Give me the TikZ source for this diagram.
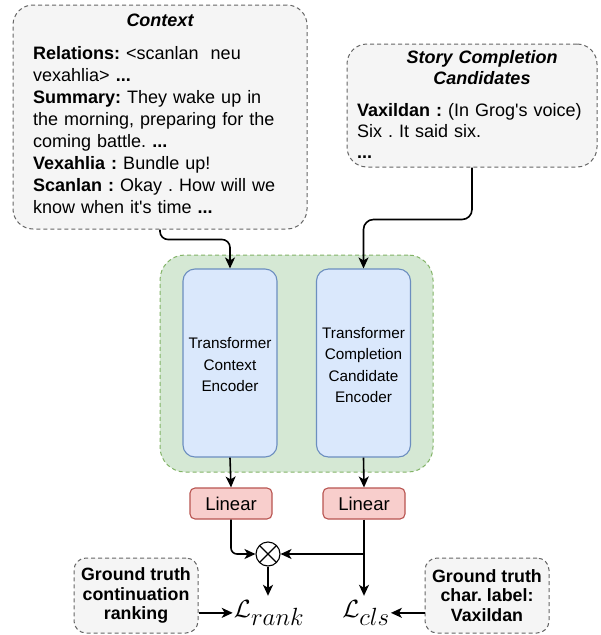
\documentclass[tikz,border=0pt]{standalone}
\usepackage{fontspec}
\newfontfamily\arial{Liberation Sans}
\usetikzlibrary{arrows.meta}
\frenchspacing
\definecolor{grayfill}{HTML}{F5F5F5}
\definecolor{grayline}{HTML}{666666}
\definecolor{greenfill}{HTML}{D5E8D4}
\definecolor{greenline}{HTML}{82B366}
\definecolor{bluefill}{HTML}{DAE8FC}
\definecolor{blueline}{HTML}{6C8EBF}
\definecolor{redfill}{HTML}{F8CECC}
\definecolor{redline}{HTML}{B85450}
\tikzset{
  graybox/.style={draw=grayline, fill=grayfill, line width=1pt, dash pattern=on 4pt off 3pt, rounded corners=20pt, inner sep=0pt},
  grpbox/.style={draw=greenline, fill=greenfill, line width=1pt, dash pattern=on 4pt off 3pt, rounded corners=25pt, inner sep=0pt},
  encbox/.style={draw=blueline, fill=bluefill, line width=1.1pt, rounded corners=12pt, minimum width=94pt, minimum height=188pt, inner sep=0pt},
  enctext/.style={align=center, font=\arial\fontsize{15.3}{21.5}\selectfont},
  linbox/.style={draw=redline, fill=redfill, line width=1.1pt, rounded corners=5pt, minimum width=82pt, minimum height=31pt, inner sep=0pt, font=\arial\fontsize{18.5}{22}\selectfont},
  gtbox/.style={graybox, rounded corners=12pt, minimum width=124pt, minimum height=75pt, align=center, font=\arial\bfseries\fontsize{17.8}{19.5}\selectfont},
  conn/.style={line width=1.6pt, -{Stealth[length=11pt,width=10pt,inset=3pt]}},
  plain/.style={line width=1.6pt},
  losstext/.style={inner xsep=1pt, inner ysep=4pt, font=\fontsize{36}{36}\selectfont},
}
\begin{document}
\begin{tikzpicture}[x=1pt,y=-1pt, font=\arial]
\useasboundingbox (0,0) rectangle (601,635);

% context box
\node[graybox, minimum width=294pt, minimum height=224pt] (ctx) at (160,117) {};
\node[anchor=base, inner sep=0pt, font=\arial\bfseries\itshape\fontsize{18}{22}\selectfont] (ctxtitle) at (160,26.7) {Context};
\node[anchor=base west, inner sep=0pt, text width=275pt, align=left, font=\arial\fontsize{18}{22}\selectfont] (ctxbody) at (33,59.3)
 {\textbf{Relations:} <scanlan\ \ neu\\
  vexahlia> \textbf{...}\\
  \textbf{Summary:} They wake up in\\
  the morning, preparing for the\\
  coming battle. \textbf{...}\\
  \textbf{Vexahlia :} Bundle up!\\
  \textbf{Scanlan :} Okay . How will we\\
  know when it's time \textbf{...}};

% story completion box
\node[graybox, minimum width=250pt, minimum height=123pt] (sto) at (472,105.5) {};
\node[anchor=base, inner sep=0pt, text width=240pt, align=center, font=\arial\bfseries\itshape\fontsize{18}{21}\selectfont] (stotitle) at (482,63)
 {Story Completion\\Candidates};
\node[anchor=base west, inner sep=0pt, text width=240pt, align=left, font=\arial\fontsize{18}{21}\selectfont] (stobody) at (357,116)
 {\textbf{Vaxildan :} (In Grog's voice)\\
  Six . It said six.\\
  \textbf{...}};

% model group
\node[grpbox, minimum width=273pt, minimum height=217pt] (grp) at (296.5,363.5) {};
\node[encbox] (enc1) at (230,363) {};
\node[enctext] at (230,365) {Transformer\\Context\\Encoder};
\node[encbox] (enc2) at (363.5,363) {};
\node[enctext] at (363.5,365) {Transformer\\Completion\\Candidate\\Encoder};

% linear layers
\node[linbox] (lin1) at (231,503.5) {Linear};
\node[linbox] (lin2) at (364,503.5) {Linear};

% product
\node[draw, circle, line width=1.1pt, minimum size=24pt, inner sep=0pt,
      path picture={\draw[line width=1.1pt] (path picture bounding box.north west) -- (path picture bounding box.south east)
                    (path picture bounding box.north east) -- (path picture bounding box.south west);}] (mul) at (268,554) {};
\coordinate (j) at (364,554);

% losses
\node[losstext, anchor=base] (lrank) at (269,617) {$\mathcal{L}_{rank}$};
\node[losstext, anchor=base] (lcls) at (366,617) {$\mathcal{L}_{cls}$};

% ground truth boxes
\node[gtbox] (gt1) at (136,595.5) {Ground truth\\continuation\\ranking};
\node[gtbox] (gt2) at (487,595.5) {Ground truth\\char. label:\\Vaxildan};

% connectors
\draw[conn, rounded corners=8pt] (ctx.south) -- ++(0,10) -| (enc1.north);
\draw[conn, rounded corners=10pt] (sto.south) -- ++(0,52) -| (enc2.north);
\draw[conn] (enc1.south) -- (lin1.north);
\draw[conn] (enc2.south) -- (lin2.north);
\draw[conn, rounded corners=6pt] (lin1.south) |- (mul.west);
\draw[plain] (lin2.south) -- (j);
\draw[conn] (j) -- (mul.east);
\draw[conn] (j) -- (lcls.north -| j);
\draw[conn] (mul.south) -- (lrank.north -| mul);
\draw[conn] (gt1.east |- lrank.west) -- (lrank.west);
\draw[conn] (gt2.west |- lcls.east) -- (lcls.east);
\end{tikzpicture}
\end{document}
